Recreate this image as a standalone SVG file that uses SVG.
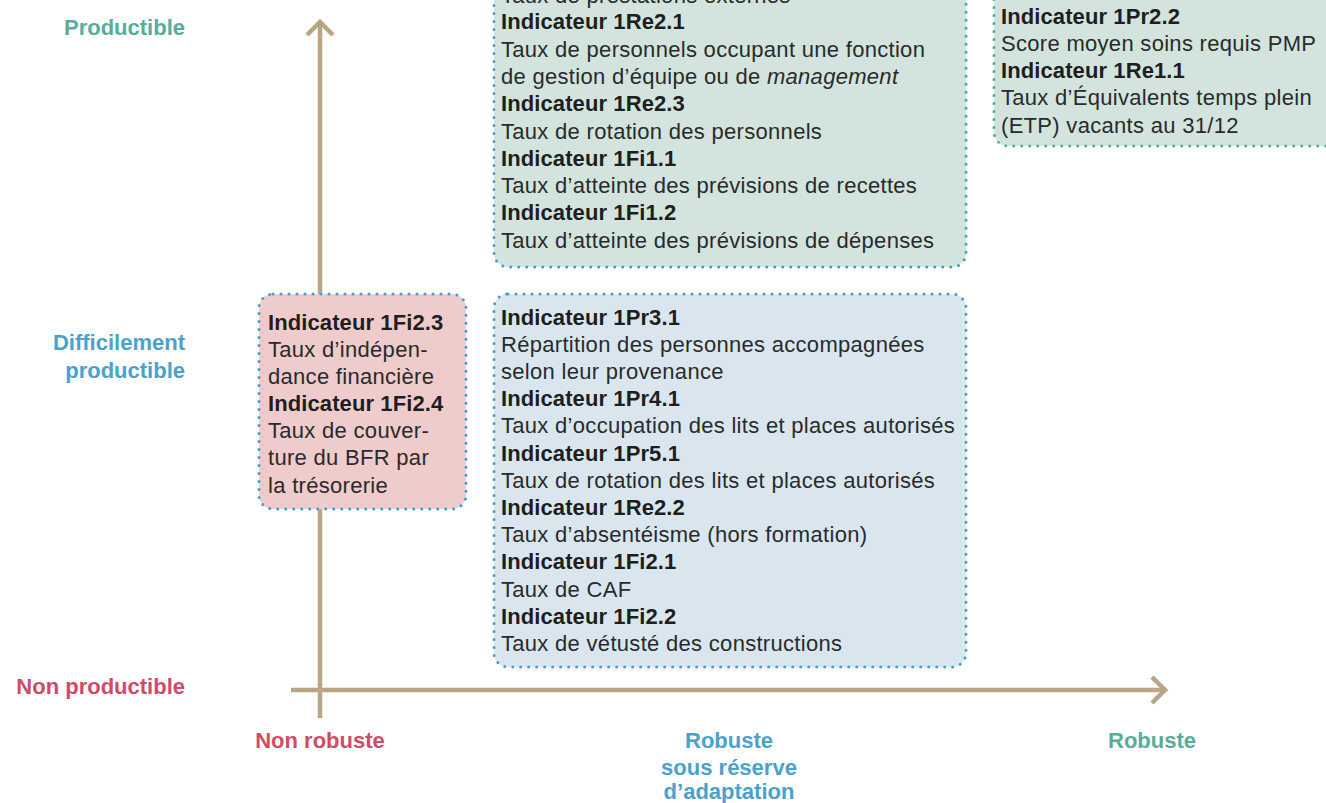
<svg xmlns="http://www.w3.org/2000/svg" width="1326" height="803" viewBox="0 0 1326 803">
<style>
.t{font-family:"Liberation Sans",Arial,sans-serif;font-size:22px;fill:#2a2a2a;letter-spacing:0.3px}
.b{font-weight:bold;fill:#1e1e1e;letter-spacing:0.1px}
.lab{font-family:"Liberation Sans",Arial,sans-serif;font-size:22px;font-weight:bold}
.teal{fill:#59ad97}.blue{fill:#4aa2cb}.red{fill:#d04b65}
.box{stroke-width:3;stroke-dasharray:0 8;stroke-linecap:round}
.axis{stroke:#b9a686;stroke-width:4.5;fill:none}
</style>
<rect width="1326" height="803" fill="#fff"/>
<g id="axes">
<line class="axis" x1="320" y1="23" x2="320" y2="718"/>
<polyline class="axis" points="307,35 320,22 333,35"/>
<line class="axis" x1="291" y1="690" x2="1164" y2="690"/>
<polyline class="axis" points="1152,677 1165,690 1152,703"/>
</g>
<g id="labels">
<text class="lab teal" x="185" y="35" text-anchor="end">Productible</text>
<text class="lab blue" x="185" y="350" text-anchor="end">Difficilement</text>
<text class="lab blue" x="185" y="378" text-anchor="end">productible</text>
<text class="lab red" x="185" y="694" text-anchor="end">Non productible</text>
<text class="lab red" x="320" y="748" text-anchor="middle">Non robuste</text>
<text class="lab blue" x="729" y="748" text-anchor="middle">Robuste</text>
<text class="lab blue" x="729" y="775" text-anchor="middle">sous réserve</text>
<text class="lab blue" x="729" y="799" text-anchor="middle">d’adaptation</text>
<text class="lab teal" x="1152" y="748" text-anchor="middle">Robuste</text>
</g>
<g id="box-green-top">
<rect class="box" x="494" y="-40" width="472" height="307" rx="14" fill="#d3e4de" stroke="#3d9fd5"/>
<text class="t" x="501" y="3">Taux de prestations externes</text>
<text class="t b" x="501" y="29">Indicateur 1Re2.1</text>
<text class="t" x="501" y="57">Taux de personnels occupant une fonction</text>
<text class="t" x="501" y="84">de gestion d’équipe ou de <tspan font-style="italic">management</tspan></text>
<text class="t b" x="501" y="111">Indicateur 1Re2.3</text>
<text class="t" x="501" y="139">Taux de rotation des personnels</text>
<text class="t b" x="501" y="166">Indicateur 1Fi1.1</text>
<text class="t" x="501" y="193">Taux d’atteinte des prévisions de recettes</text>
<text class="t b" x="501" y="220">Indicateur 1Fi1.2</text>
<text class="t" x="501" y="248">Taux d’atteinte des prévisions de dépenses</text>
</g>
<g id="box-green-right">
<rect class="box" x="994" y="-40" width="350" height="186" rx="14" fill="#d3e4de" stroke="#4db49b"/>
<text class="t b" x="1001" y="24">Indicateur 1Pr2.2</text>
<text class="t" x="1001" y="51">Score moyen soins requis PMP</text>
<text class="t b" x="1001" y="78">Indicateur 1Re1.1</text>
<text class="t" x="1001" y="105">Taux d’Équivalents temps plein</text>
<text class="t" x="1001" y="133">(ETP) vacants au 31/12</text>
</g>
<g id="box-pink">
<rect class="box" x="259" y="294" width="207" height="215" rx="14" fill="#efcbcb" stroke="#3d9fd5"/>
<text class="t b" x="268" y="330">Indicateur 1Fi2.3</text>
<text class="t" x="268" y="357">Taux d’indépen-</text>
<text class="t" x="268" y="384">dance financière</text>
<text class="t b" x="268" y="411">Indicateur 1Fi2.4</text>
<text class="t" x="268" y="438">Taux de couver-</text>
<text class="t" x="268" y="465">ture du BFR par</text>
<text class="t" x="268" y="493">la trésorerie</text>
</g>
<g id="box-blue">
<rect class="box" x="494" y="294" width="472" height="373" rx="14" fill="#dae6ef" stroke="#3d9fd5"/>
<text class="t b" x="501" y="325">Indicateur 1Pr3.1</text>
<text class="t" x="501" y="352" letter-spacing="-0.3">Répartition des personnes accompagnées</text>
<text class="t" x="501" y="379" letter-spacing="-0.3">selon leur provenance</text>
<text class="t b" x="501" y="406">Indicateur 1Pr4.1</text>
<text class="t" x="501" y="433">Taux d’occupation des lits et places autorisés</text>
<text class="t b" x="501" y="461">Indicateur 1Pr5.1</text>
<text class="t" x="501" y="488">Taux de rotation des lits et places autorisés</text>
<text class="t b" x="501" y="515">Indicateur 1Re2.2</text>
<text class="t" x="501" y="542">Taux d’absentéisme (hors formation)</text>
<text class="t b" x="501" y="569">Indicateur 1Fi2.1</text>
<text class="t" x="501" y="597">Taux de CAF</text>
<text class="t b" x="501" y="624">Indicateur 1Fi2.2</text>
<text class="t" x="501" y="651">Taux de vétusté des constructions</text>
</g>
</svg>
